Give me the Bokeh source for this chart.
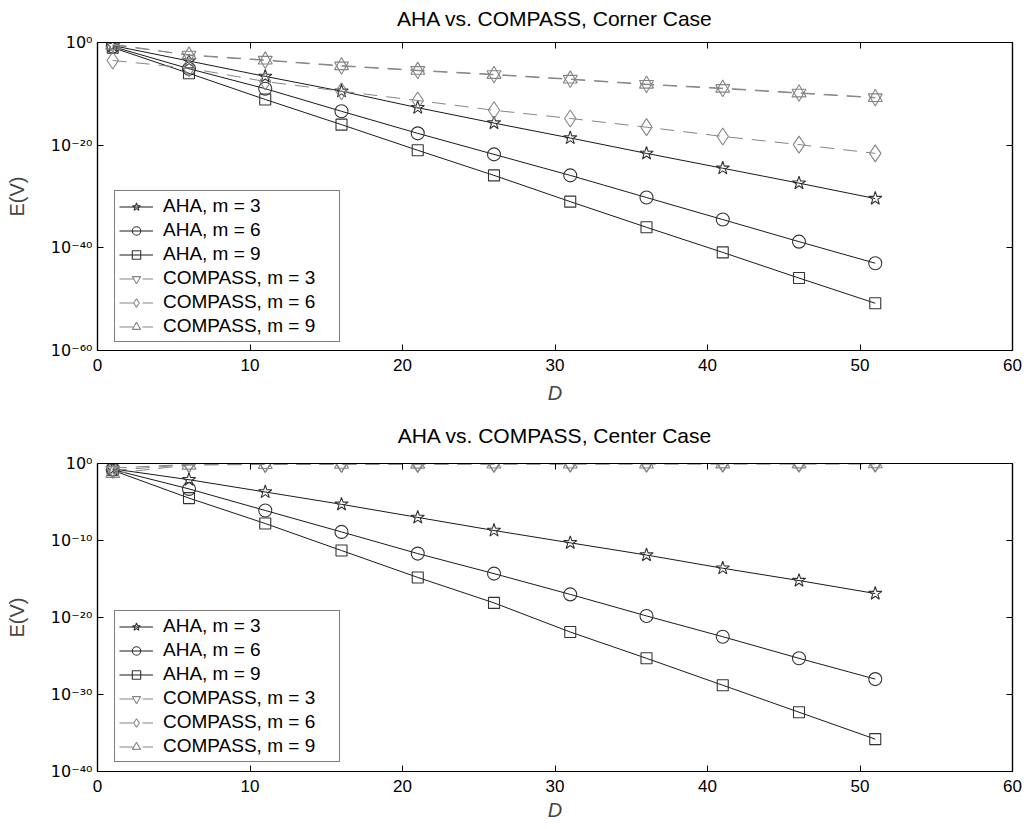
from bokeh.plotting import figure
from bokeh.models import (LogAxis, LinearAxis, FixedTicker, CustomJSTickFormatter,
                          Legend, LegendItem, Range1d)
from bokeh.layouts import column
from bokeh.embed import file_html
from bokeh.resources import INLINE

FONT = "Liberation Sans"
SUP_FONT = "DejaVu Sans"

# ---------------- data ----------------
D = [1, 6, 11, 16, 21, 26, 31, 36, 41, 46, 51]
X_TICKS = [0, 10, 20, 30, 40, 50, 60]
CORNER_Y_TICKS = [1e-60, 1e-40, 1e-20, 1e0]
CENTER_Y_TICKS = [1e-40, 1e-30, 1e-20, 1e-10, 1e0]

LABELS = ["AHA, m = 3", "AHA, m = 6", "AHA, m = 9",
          "COMPASS, m = 3", "COMPASS, m = 6", "COMPASS, m = 9"]

# Corner case
corner_aha_m3 = [2.5e-1, 2.5e-4, 2.5e-7, 3.2e-10, 2.0e-13, 2.0e-16, 2.5e-19, 2.5e-22, 3.2e-25, 4.0e-28, 4.0e-31]
corner_aha_m6 = [1.6e-1, 7.9e-6, 1.0e-9, 4.0e-14, 2.0e-18, 1.6e-22, 1.3e-26, 6.3e-31, 3.2e-35, 1.6e-39, 1.0e-43]
corner_aha_m9 = [1.0e-1, 1.0e-6, 7.9e-12, 1.0e-16, 1.0e-21, 1.3e-26, 1.0e-31, 1.0e-36, 1.3e-41, 1.3e-46, 1.6e-51]
corner_compass_m3 = [5.0e-1, 3.2e-3, 3.2e-4, 2.5e-5, 3.2e-6, 5.0e-7, 6.3e-8, 6.3e-9, 1.0e-9, 1.3e-10, 1.6e-11]
corner_compass_m6 = [3.2e-4, 1.0e-5, 2.5e-8, 3.2e-10, 5.0e-12, 6.3e-14, 1.6e-15, 3.2e-17, 5.0e-19, 1.3e-20, 2.5e-22]
corner_compass_m9 = [3.2e-1, 4.0e-3, 4.0e-4, 3.2e-5, 4.0e-6, 6.3e-7, 7.9e-8, 7.9e-9, 1.3e-9, 1.6e-10, 2.0e-11]

# Center case
center_aha_m3 = [2.0e-1, 7.9e-3, 2.0e-4, 5.0e-6, 1.0e-7, 2.0e-9, 5.0e-11, 1.3e-12, 2.5e-14, 6.3e-16, 1.3e-17]
center_aha_m6 = [1.6e-1, 5.0e-4, 7.9e-7, 1.3e-9, 2.0e-12, 5.0e-15, 1.0e-17, 1.6e-20, 3.2e-23, 5.0e-26, 1.0e-28]
center_aha_m9 = [1.3e-1, 3.2e-5, 1.6e-8, 5.0e-12, 1.6e-15, 7.9e-19, 1.3e-22, 5.0e-26, 1.6e-29, 5.0e-33, 1.6e-36]
center_compass_m3 = [1.3e-1, 7.1e-1, 7.9e-1, 8.3e-1, 8.5e-1, 8.7e-1, 8.9e-1, 9.0e-1, 9.1e-1, 9.2e-1, 9.3e-1]
center_compass_m6 = [2.5e-1, 7.9e-1, 8.5e-1, 8.7e-1, 8.9e-1, 9.0e-1, 9.1e-1, 9.2e-1, 9.3e-1, 9.4e-1, 9.5e-1]
center_compass_m9 = [5.0e-2, 6.3e-1, 7.5e-1, 8.1e-1, 8.4e-1, 8.6e-1, 8.8e-1, 8.9e-1, 9.0e-1, 9.1e-1, 9.2e-1]

# ---------------- style ----------------
AHA_LINE = "#1a1a1a"
AHA_MARK = "#333333"
CMP_COLOR = "#858585"
MARKERS = ["star", "circle", "square", "inverted_triangle", "diamond", "triangle"]
SIZES = [14, 13, 11, 14, 17, 14]

SUP_JS = """
const m = {"0":"\\u2070","1":"\\u00b9","2":"\\u00b2","3":"\\u00b3","4":"\\u2074","5":"\\u2075",
           "6":"\\u2076","7":"\\u2077","8":"\\u2078","9":"\\u2079","-":"\\u207b"};
const e = Math.round(Math.log10(tick));
return "10" + String(e).split("").map(c => m[c]).join("");
"""


def style_axis(ax):
    ax.major_tick_in = 6
    ax.major_tick_out = 0
    ax.minor_tick_line_color = None
    ax.axis_line_color = "black"
    ax.axis_line_width = 1.2
    ax.major_tick_line_color = "black"
    ax.major_label_text_font = FONT
    ax.major_label_text_font_size = "17px"
    ax.major_label_text_color = "black"
    ax.major_label_standoff = 8


def make_fig(title, y_lo, y_ticks, series, border_top, border_bottom, title_standoff,
             xlabel_standoff, legend_loc):
    p = figure(frame_width=915, frame_height=308,
               x_range=Range1d(0, 60), y_range=Range1d(y_lo, 1e0),
               y_axis_type="log", output_backend="svg", toolbar_location=None,
               min_border_left=97, min_border_right=14,
               min_border_top=border_top, min_border_bottom=border_bottom)
    p.grid.visible = False
    p.outline_line_color = "black"
    p.outline_line_width = 1.2
    p.background_fill_color = "white"
    p.border_fill_color = "white"
    p.title.visible = False

    p.xaxis.ticker = FixedTicker(ticks=X_TICKS)
    p.yaxis.ticker = FixedTicker(ticks=y_ticks)
    p.yaxis.formatter = CustomJSTickFormatter(code=SUP_JS)
    for ax in p.xaxis + p.yaxis:
        style_axis(ax)
    p.yaxis.major_label_text_font = SUP_FONT
    p.yaxis.major_label_text_font_size = "16px"
    p.yaxis.major_label_standoff = 5
    p.xaxis.axis_label = "D"
    p.xaxis.axis_label_text_font = FONT
    p.xaxis.axis_label_text_font_style = "italic"
    p.xaxis.axis_label_text_font_size = "20px"
    p.xaxis.axis_label_standoff = xlabel_standoff
    p.yaxis.axis_label = "E(V)"
    p.yaxis.axis_label_text_font = FONT
    p.yaxis.axis_label_text_font_style = "normal"
    p.yaxis.axis_label_text_font_size = "20px"
    p.yaxis.axis_label_standoff = 20

    # top axis carries the chart title as its label
    top = LinearAxis(ticker=FixedTicker(ticks=X_TICKS),
                     formatter=CustomJSTickFormatter(code='return ""'))
    right = LogAxis(ticker=FixedTicker(ticks=y_ticks),
                    formatter=CustomJSTickFormatter(code='return ""'))
    for ax in (top, right):
        style_axis(ax)
        ax.major_label_standoff = 0
        ax.major_label_text_font_size = "1px"
    top.axis_label = title
    top.axis_label_text_font = FONT
    top.axis_label_text_font_size = "21px"
    top.axis_label_text_font_style = "normal"
    top.axis_label_text_color = "black"
    top.axis_label_standoff = title_standoff
    p.add_layout(top, "above")
    p.add_layout(right, "right")

    items = []
    for i, (label, ys) in enumerate(zip(LABELS, series)):
        aha = i < 3
        lc = AHA_LINE if aha else CMP_COLOR
        mc = AHA_MARK if aha else CMP_COLOR
        dash = "solid" if aha else "14 9"
        lr = p.line(D, ys, line_color=lc, line_width=1, line_dash=dash)
        sr = p.scatter(D, ys, marker=MARKERS[i], size=SIZES[i],
                       line_color=mc, fill_color=None, line_width=1.1)
        items.append(LegendItem(label=label, renderers=[lr, sr]))

    legend = Legend(items=items, location=legend_loc)
    legend.border_line_color = "black"
    legend.border_line_width = 1.2
    legend.background_fill_color = "white"
    legend.background_fill_alpha = 1
    legend.label_text_font = FONT
    legend.label_text_font_size = "19px"
    legend.label_text_color = "black"
    legend.glyph_width = 34
    legend.glyph_height = 21
    legend.label_height = 21
    legend.label_width = 172
    legend.label_standoff = 10
    legend.spacing = 2
    legend.padding = 4
    legend.margin = 0
    p.add_layout(legend)
    return p


p1 = make_fig("AHA vs. COMPASS, Corner Case", 1e-60, CORNER_Y_TICKS,
              [corner_aha_m3, corner_aha_m6, corner_aha_m9,
               corner_compass_m3, corner_compass_m6, corner_compass_m9],
              border_top=42, border_bottom=60, title_standoff=13, xlabel_standoff=8,
              legend_loc=(17, 8))
p2 = make_fig("AHA vs. COMPASS, Center Case", 1e-40, CENTER_Y_TICKS,
              [center_aha_m3, center_aha_m6, center_aha_m9,
               center_compass_m3, center_compass_m6, center_compass_m9],
              border_top=53, border_bottom=50, title_standoff=17, xlabel_standoff=4,
              legend_loc=(17, 9))

layout = column(p1, p2, spacing=0)
open("out.html", "w").write(file_html(layout, INLINE))
